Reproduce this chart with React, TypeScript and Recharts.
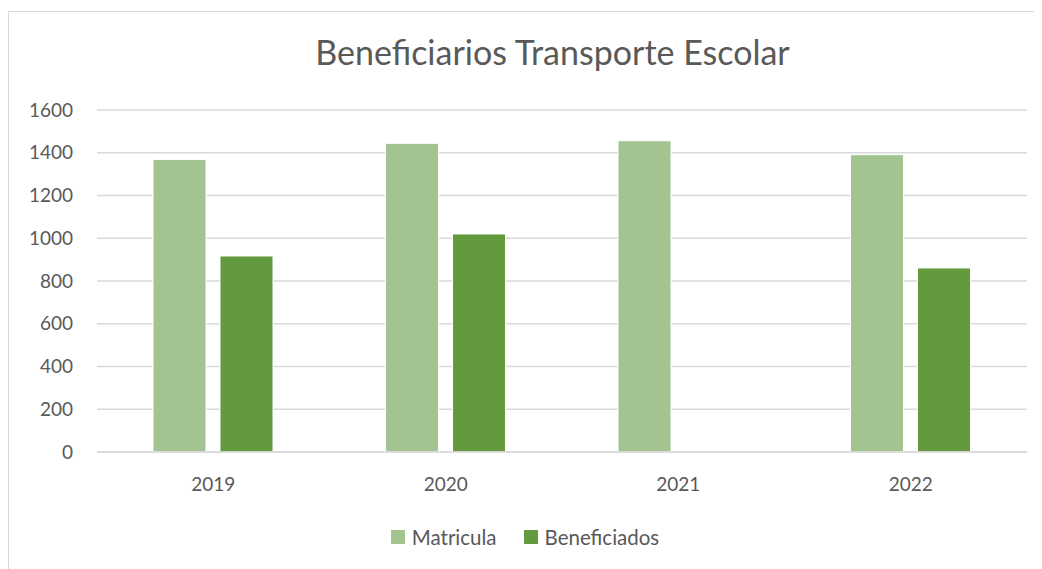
import React from "react";
import { BarChart, Bar, XAxis, YAxis, CartesianGrid, Legend } from "recharts";

const years = ["2019", "2020", "2021", "2022"];
const matricula = [1369, 1444, 1456, 1391];
const beneficiados = [917, 1020, 0, 861];
const yTicks = [0, 200, 400, 600, 800, 1000, 1200, 1400, 1600];

const series = [
  { key: "matricula", name: "Matricula", color: "#A3C490" },
  { key: "beneficiados", name: "Beneficiados", color: "#639A3E" },
];

const data = years.map((year, i) => ({
  year,
  matricula: matricula[i],
  beneficiados: beneficiados[i],
}));

const textColor = "#595959";
const font = "Lato, 'Open Sans', sans-serif";

function LegendContent() {
  return (
    <div style={{ display: "flex", justifyContent: "center", alignItems: "center", fontFamily: font, fontSize: 20.5, color: textColor }}>
      {series.map((s, i) => (
        <div key={s.key} style={{ display: "flex", alignItems: "center", marginLeft: i ? 27 : 0 }}>
          <span style={{ width: 14, height: 14, background: s.color, marginRight: 7, display: "inline-block" }} />
          <span>{s.name}</span>
        </div>
      ))}
    </div>
  );
}

export default function App() {
  return (
    <div style={{ position: "relative", width: 1034, height: 561, overflow: "hidden", background: "#fff", fontFamily: font }}>
      <div
        style={{
          position: "absolute",
          left: 0,
          top: 3,
          width: 1100,
          height: 620,
          borderTop: "1px solid #D9D9D9",
          borderLeft: "1px solid #D9D9D9",
        }}
      />
      <div
        style={{
          position: "absolute",
          left: 0,
          width: 1089,
          top: 27,
          textAlign: "center",
          fontSize: 34,
          lineHeight: 1,
          color: textColor,
        }}
      >
        Beneficiarios Transporte Escolar
      </div>
      <div style={{ position: "absolute", left: 0, top: 0 }}>
        <BarChart
          width={1034}
          height={561}
          data={data}
          margin={{ top: 102, right: 15, left: 0, bottom: 53 }}
          barSize={53}
          barGap={14}
        >
          <CartesianGrid vertical={false} stroke="#D9D9D9" strokeWidth={1.3} />
          <XAxis
            dataKey="year"
            height={40}
            axisLine={{ stroke: "#D9D9D9", strokeWidth: 1.3 }}
            tickLine={false}
            tickSize={0}
            tickMargin={26}
            tick={{ fill: textColor, fontSize: 19, fontFamily: font }}
          />
          <YAxis
            width={89}
            domain={[0, 1600]}
            ticks={yTicks}
            axisLine={false}
            tickLine={false}
            tickSize={0}
            tickMargin={24}
            tick={{ fill: textColor, fontSize: 19, fontFamily: font }}
          />
          <Legend
            content={<LegendContent />}
            wrapperStyle={{ position: "absolute", top: 517, left: 0, width: 1034 }}
          />
          {series.map((s) => (
            <Bar
              key={s.key}
              dataKey={s.key}
              name={s.name}
              fill={s.color}
              stroke="#FFFFFF"
              strokeWidth={1}
              isAnimationActive={false}
            />
          ))}
        </BarChart>
      </div>
    </div>
  );
}
